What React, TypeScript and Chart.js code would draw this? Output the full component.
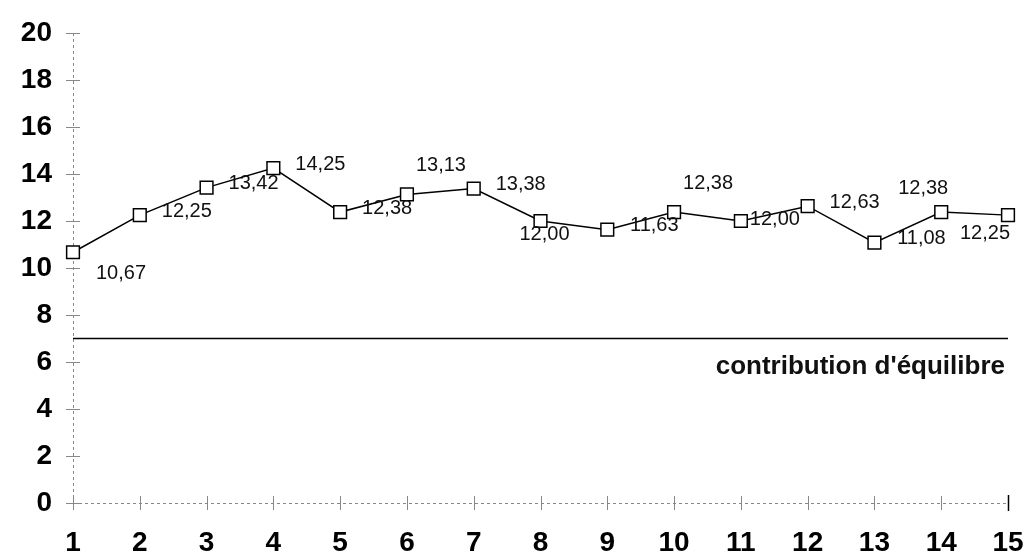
import React, { useEffect, useRef } from "react";
import { Chart, registerables } from "chart.js";

Chart.register(...registerables);

const categories = ["1", "2", "3", "4", "5", "6", "7", "8", "9", "10", "11", "12", "13", "14", "15"];
const values = [10.67, 12.25, 13.42, 14.25, 12.38, 13.13, 13.38, 12.0, 11.63, 12.38, 12.0, 12.63, 11.08, 12.38, 12.25];
const equilibre = [7, 7, 7, 7, 7, 7, 7, 7, 7, 7, 7, 7, 7, 7, 7];
const equilibreLabel = "contribution d'équilibre";
const yTicks = [0, 2, 4, 6, 8, 10, 12, 14, 16, 18, 20];
const labelPlacement = [
  "rightLow", "right", "right", "right", "right", "aboveRight", "right", "below",
  "right", "aboveRight", "rightNear", "right", "right", "aboveLeft", "belowLeft",
];

const placementOffsets: Record<string, [number, number]> = {
  right: [47, -4],
  rightNear: [34, -2],
  rightLow: [48, 21],
  aboveRight: [34, -29],
  aboveLeft: [-18, -24],
  below: [4, 13],
  belowLeft: [-23, 18],
};

const fmt = (v: number) => v.toFixed(2).replace(".", ",");

const overlayPlugin = {
  id: "overlay",
  beforeDatasetsDraw(chart: any) {
    const { ctx, chartArea, scales } = chart;
    const x = scales.x;
    const y = scales.y;
    ctx.save();
    ctx.strokeStyle = "#888";
    ctx.lineWidth = 1;
    ctx.setLineDash([3, 3]);
    ctx.beginPath();
    ctx.moveTo(chartArea.left + 0.5, chartArea.top);
    ctx.lineTo(chartArea.left + 0.5, chartArea.bottom + 8);
    ctx.stroke();
    ctx.beginPath();
    ctx.moveTo(chartArea.left, y.getPixelForValue(0) + 0.5);
    ctx.lineTo(chartArea.right, y.getPixelForValue(0) + 0.5);
    ctx.stroke();
    ctx.setLineDash([]);
    yTicks.forEach((t) => {
      const py = Math.round(y.getPixelForValue(t)) + 0.5;
      ctx.beginPath();
      ctx.moveTo(chartArea.left - 7, py);
      ctx.lineTo(chartArea.left + 7, py);
      ctx.stroke();
    });
    categories.forEach((_, i) => {
      const px = Math.round(x.getPixelForValue(i)) + 0.5;
      ctx.beginPath();
      ctx.moveTo(px, chartArea.bottom - 7);
      ctx.lineTo(px, chartArea.bottom + 7);
      ctx.stroke();
    });
    ctx.strokeStyle = "#000";
    ctx.lineWidth = 1.5;
    const rx = Math.round(x.getPixelForValue(categories.length - 1)) + 0.5;
    ctx.beginPath();
    ctx.moveTo(rx, chartArea.bottom - 8);
    ctx.lineTo(rx, chartArea.bottom + 8);
    ctx.stroke();
    ctx.restore();
  },
  afterDatasetsDraw(chart: any) {
    const { ctx, chartArea, scales } = chart;
    const x = scales.x;
    const y = scales.y;
    ctx.save();
    ctx.fillStyle = "#111";
    ctx.font = "20px 'Liberation Sans', Arial, sans-serif";
    ctx.textAlign = "center";
    ctx.textBaseline = "middle";
    values.forEach((v, i) => {
      const [dx, dy] = placementOffsets[labelPlacement[i]];
      ctx.fillText(fmt(v), x.getPixelForValue(i) + dx, y.getPixelForValue(v) + dy);
    });
    ctx.font = "bold 26px 'Liberation Sans', Arial, sans-serif";
    ctx.textAlign = "right";
    ctx.fillText(equilibreLabel, chartArea.right - 3, y.getPixelForValue(equilibre[0]) + 28);
    ctx.restore();
  },
};

export default function App() {
  const ref = useRef<HTMLCanvasElement>(null);
  useEffect(() => {
    if (!ref.current) return;
    const chart = new Chart(ref.current, {
      type: "line",
      data: {
        labels: categories,
        datasets: [
          {
            data: equilibre,
            borderColor: "#000",
            borderWidth: 1.5,
            pointRadius: 0,
            fill: false,
          },
          {
            data: values,
            borderColor: "#000",
            borderWidth: 1.5,
            pointStyle: "rect",
            pointRadius: 9,
            pointHoverRadius: 9,
            pointBackgroundColor: "#fff",
            pointBorderColor: "#000",
            pointBorderWidth: 1.5,
            fill: false,
          },
        ],
      },
      options: {
        animation: false,
        responsive: false,
        maintainAspectRatio: false,
        layout: { padding: { top: 33, right: 24, left: 0, bottom: 0 } },
        plugins: { legend: { display: false }, tooltip: { enabled: false } },
        scales: {
          x: {
            type: "category",
            offset: false,
            border: { display: false },
            grid: { display: false, drawTicks: false },
            ticks: {
              padding: 23,
              color: "#000",
              font: { family: "'Liberation Sans', Arial, sans-serif", size: 28, weight: "bold" },
              maxRotation: 0,
              autoSkip: false,
            },
            afterFit: (s: any) => {
              s.height = 53;
              s.paddingLeft = 0;
              s.paddingRight = 0;
            },
          },
          y: {
            min: 0,
            max: 20,
            border: { display: false },
            grid: { display: false, drawTicks: false },
            ticks: {
              stepSize: 2,
              padding: 21,
              color: "#000",
              font: { family: "'Liberation Sans', Arial, sans-serif", size: 28, weight: "bold" },
            },
            afterFit: (s: any) => {
              s.width = 73;
              s.paddingTop = 0;
              s.paddingBottom = 0;
            },
          },
        },
      },
      plugins: [overlayPlugin],
    } as any);
    return () => chart.destroy();
  }, []);
  return (
    <div style={{ position: "fixed", left: 0, top: 0, width: 1032, height: 556, background: "#fff" }}>
      <canvas ref={ref} width={1032} height={556} style={{ width: 1032, height: 556 }} />
    </div>
  );
}
